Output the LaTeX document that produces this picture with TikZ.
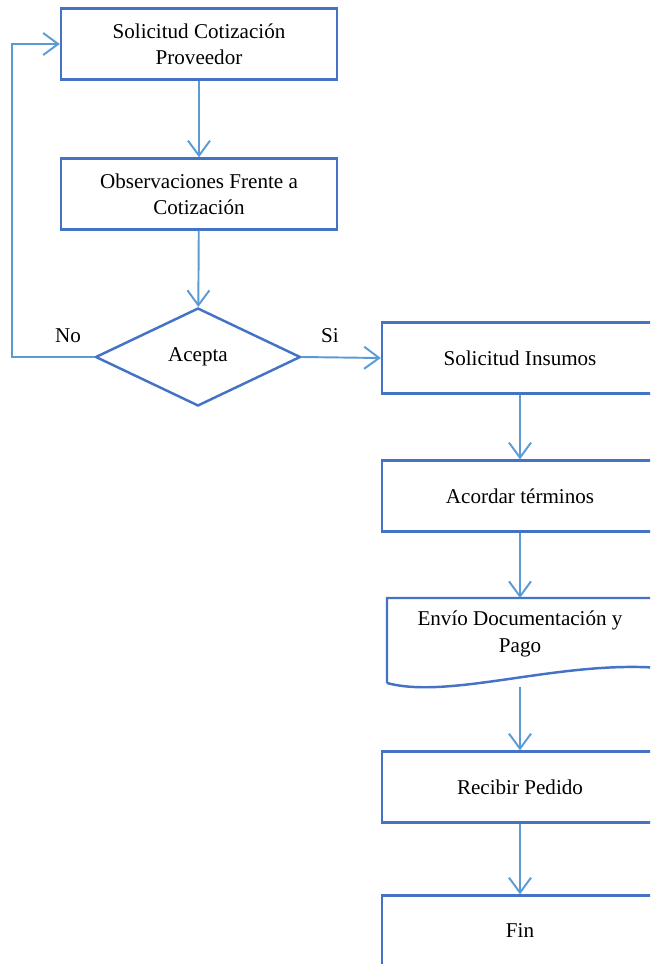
\documentclass[tikz,border=0pt]{standalone}
\usepackage{fontspec}
\setmainfont{Liberation Serif}
\usetikzlibrary{arrows.meta, positioning, shapes.geometric}

\definecolor{boxblue}{HTML}{4472C4}
\definecolor{lineblue}{HTML}{5B9BD5}

\begin{document}
\begin{tikzpicture}[
    x=0.02cm, y=-0.02cm,
    box/.style={draw=boxblue, line width=1.4pt, minimum height=1.42cm,
                align=center, font=\fontsize{12}{15}\selectfont},
    leftbox/.style={box, minimum width=5.52cm},
    rightbox/.style={box, minimum width=5.52cm},
    decision/.style={diamond, draw=boxblue, line width=1.4pt, aspect=2.1,
                     minimum width=4.1cm, minimum height=1.96cm, inner sep=0pt,
                     font=\fontsize{12}{15}\selectfont},
    flow/.style={draw=lineblue, line width=1.1pt,
                 -{Straight Barb[length=0.3cm, width=0.44cm, line width=1.1pt]}},
    lbl/.style={font=\fontsize{12}{15}\selectfont}
  ]
  \clip (0,0) rectangle (650,964);
  \fill[white] (0,0) rectangle (650,964);

  % Left column
  \node[leftbox] (cot) at (199,44) {Solicitud Cotización\\Proveedor};
  \node[leftbox] (obs) at (199,194) {Observaciones Frente a\\Cotización};
  \node[decision] (acp) at (198,357) {\raisebox{-3pt}{Acepta}};

  % Right column
  \node[rightbox] (ins) at (520,358) {Solicitud Insumos};
  \node[rightbox] (acu) at (520,496) {Acordar términos};

  % Document shape
  \draw[boxblue, line width=1.4pt] (387,683) -- (387,598) -- (660,598) -- (660,668)
    .. controls (560,660) and (450,700) .. (387,683);
  \node[lbl, align=center] (env) at (520,634) {Envío Documentación y\\Pago};
  \coordinate (envtop) at (520,598);
  \coordinate (envbot) at (520,687);

  \node[rightbox] (rec) at (520,787) {Recibir Pedido};
  \node[rightbox] (fin) at (520,931) {Fin};

  % Connectors
  \draw[flow] (cot) -- (obs);
  \draw[flow] (obs) -- (acp);
  \coordinate (loopa) at (12,357);
  \coordinate (loopb) at (12,44);
  \draw[flow] (acp.west) -- (loopa) -- (loopb) -- (cot.west);
  \draw[flow] (acp.east) -- (ins.west);
  \draw[flow] (ins) -- (acu);
  \draw[flow] (acu) -- (envtop);
  \draw[flow] (envbot) -- (rec);
  \draw[flow] (rec) -- (fin);

  % Labels
  \node[lbl] (no) at (68,336) {No};
  \node[lbl] (si) at (330,336) {Si};
\end{tikzpicture}
\end{document}
